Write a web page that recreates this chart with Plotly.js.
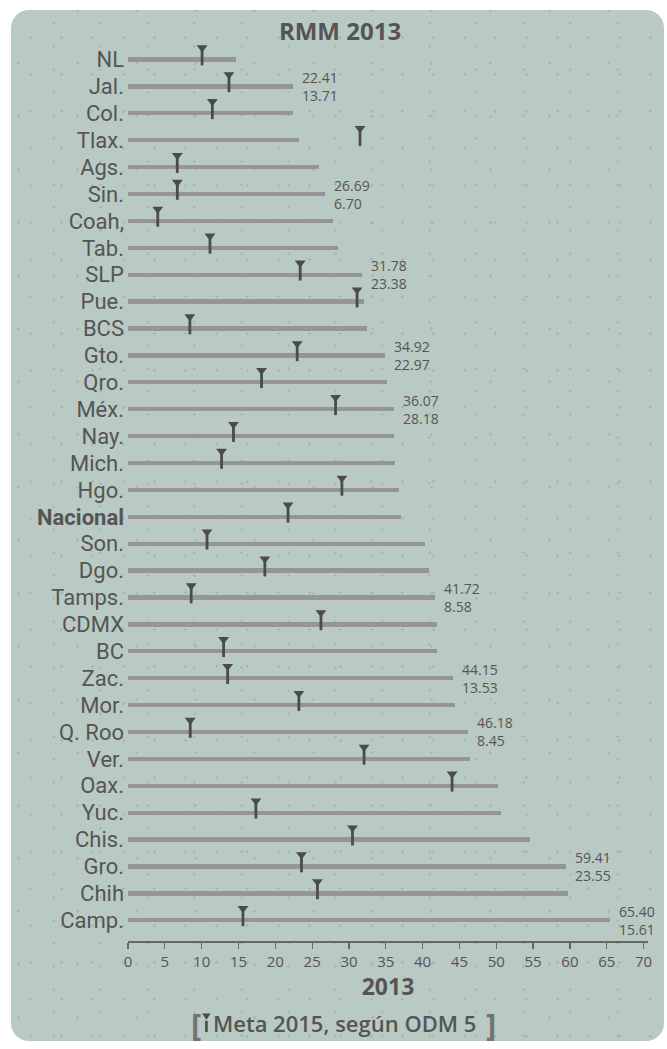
<!DOCTYPE html>
<html>
<head>
<meta charset="utf-8">
<script src="https://cdn.plot.ly/plotly-3.0.1.min.js"></script>
<style>
  html, body { margin:0; padding:0; }
  body {
    width:667px; height:1049px; position:relative; overflow:hidden;
    background-color:#ffffff;
    background-image:
      radial-gradient(circle, #d9dedc 0.9px, transparent 1.4px),
      radial-gradient(circle, #dde2e0 0.9px, transparent 1.4px);
    background-size: 37px 29px, 53px 43px;
    background-position: 3px 5px, 21px 17px;
  }
  #panel {
    position:absolute; left:11px; top:10px; width:653px; height:1031px;
    border-radius:18px;
    background-color:#b9c9c3;
    background-image:
      radial-gradient(circle, #a2b3ad 0.9px, transparent 1.5px),
      radial-gradient(circle, #a5b5af 0.9px, transparent 1.5px),
      radial-gradient(circle, #a4b4ae 0.9px, transparent 1.5px);
    background-size: 31px 37px, 47px 23px, 59px 53px;
    background-position: 4px 9px, 19px 2px, 37px 27px;
  }
  #chart { position:absolute; left:0; top:0; width:667px; height:1049px; }
</style>
</head>
<body>
<div id="panel"></div>
<div id="chart"></div>
<script>
// ---- data (top to bottom) ----
const states = ["NL","Jal.","Col.","Tlax.","Ags.","Sin.","Coah,","Tab.","SLP","Pue.","BCS",
  "Gto.","Qro.","Méx.","Nay.","Mich.","Hgo.","Nacional","Son.","Dgo.","Tamps.","CDMX","BC",
  "Zac.","Mor.","Q. Roo","Ver.","Oax.","Yuc.","Chis.","Gro.","Chih","Camp."];
const rmm2013 = [14.73,22.41,22.38,23.25,25.95,26.69,27.83,28.50,31.78,32.10,32.40,
  34.92,35.10,36.07,36.10,36.30,36.80,37.12,40.35,40.90,41.72,41.90,42.00,
  44.15,44.40,46.18,46.40,50.20,50.70,54.60,59.41,59.70,65.40];
const meta2015 = [10.06,13.71,11.45,31.50,6.69,6.70,4.04,11.13,23.38,31.10,8.40,
  22.97,18.13,28.18,14.32,12.71,29.04,21.73,10.73,18.58,8.58,26.20,12.98,
  13.53,23.20,8.45,32.05,44.00,17.37,30.48,23.55,25.72,15.61];
const labeledStates = ["Jal.","Sin.","SLP","Gto.","Méx.","Tamps.","Zac.","Q. Roo","Gro.","Camp."];
const xTicks = [0,5,10,15,20,25,30,35,40,45,50,55,60,65,70];
const chartTitle = "RMM 2013";
const xTitle = "2013";
const legendText = "Meta 2015, según ODM 5";

// ---- geometry helpers ----
const W = 667, H = 1049;
const M = {l:128, r:19, t:38, b:108};
const pw = W - M.l - M.r, ph = H - M.t - M.b;
const px = x => (x - M.l) / pw;          // pixel -> paper x
const py = y => (H - M.b - y) / ph;      // pixel -> paper y

const idx = states.map((_, i) => i);
const dark = "#4b4b4b";
const textCol = "#555555";
const labelFont = "'Liberation Sans Narrow', 'Roboto', 'Open Sans', sans-serif";

const traces = [
  {
    type: "bar", orientation: "h",
    x: rmm2013, y: idx, width: 0.16,
    marker: {color: "#959599"},
    hoverinfo: "skip", showlegend: false
  },
  {
    type: "scatter", mode: "markers",
    x: meta2015, y: idx.map(i => i - 0.07),
    marker: {symbol: "line-ns", size: 11, line: {width: 2.8, color: dark}},
    hoverinfo: "skip", showlegend: false, cliponaxis: false
  },
  {
    type: "scatter", mode: "markers",
    x: meta2015, y: idx.map(i => i - 0.44),
    marker: {symbol: "triangle-down", size: 9.5, color: dark},
    hoverinfo: "skip", showlegend: false, cliponaxis: false
  }
];

const annotations = [];
labeledStates.forEach(s => {
  const i = states.indexOf(s);
  annotations.push({
    x: rmm2013[i], y: i, xref: "x", yref: "y",
    text: rmm2013[i].toFixed(2) + "<br>" + meta2015[i].toFixed(2),
    showarrow: false, align: "left",
    xanchor: "left", yanchor: "middle", xshift: 7, yshift: 0,
    font: {family: "Open Sans", size: 14, color: textCol}
  });
});
// legend-like caption
annotations.push({
  xref: "paper", yref: "paper", x: px(195.5), y: py(1024),
  text: "<b>[</b>", showarrow: false, xanchor: "center", yanchor: "middle",
  font: {family: "Open Sans", size: 31, color: "#737373"}
});
annotations.push({
  xref: "paper", yref: "paper", x: px(491), y: py(1024),
  text: "<b>]</b>", showarrow: false, xanchor: "center", yanchor: "middle",
  font: {family: "Open Sans", size: 31, color: "#737373"}
});
annotations.push({
  xref: "paper", yref: "paper", x: px(211), y: py(1023),
  text: legendText, showarrow: false, xanchor: "left", yanchor: "middle",
  font: {family: "Open Sans", size: 22, color: textCol, weight: 600}
});

const shapes = [
  { // legend triangle
    type: "path", xref: "paper", yref: "paper",
    path: `M ${px(202.2)} ${py(1013.6)} L ${px(210.6)} ${py(1013.6)} L ${px(206.4)} ${py(1019.8)} Z`,
    fillcolor: dark, line: {width: 0}
  },
  { // legend stem
    type: "rect", xref: "paper", yref: "paper",
    x0: px(205.1), x1: px(207.7), y0: py(1032), y1: py(1020.8),
    fillcolor: dark, line: {width: 0}
  }
];

const layout = {
  width: W, height: H,
  margin: M,
  paper_bgcolor: "rgba(0,0,0,0)",
  plot_bgcolor: "rgba(0,0,0,0)",
  title: {
    text: "<b>" + chartTitle + "</b>",
    x: 340 / W, xanchor: "center", xref: "container",
    y: 1 - 32 / H, yanchor: "middle", yref: "container",
    font: {family: "Open Sans", size: 24, color: textCol}
  },
  xaxis: {
    range: [0, 70.6], tickvals: xTicks,
    ticks: "outside", ticklen: 6, tickwidth: 1.2, tickcolor: "#666",
    showline: true, linecolor: "#666", linewidth: 1.5,
    showgrid: false, zeroline: false,
    tickfont: {family: "Open Sans", size: 15, color: textCol},
    title: {text: "<b>" + xTitle + "</b>", standoff: 6,
            font: {family: "Open Sans", size: 23, color: textCol}},
    fixedrange: true
  },
  yaxis: {
    range: [32.77, -0.8],
    tickvals: idx,
    ticktext: states.map(s => s === "Nacional" ? "<b>" + s + "</b>" : s),
    ticks: "", showline: false, showgrid: false, zeroline: false,
    ticklabelstandoff: 3,
    tickfont: {family: labelFont, size: 22, color: textCol},
    fixedrange: true
  },
  annotations: annotations,
  shapes: shapes,
  showlegend: false,
  bargap: 0
};

Plotly.newPlot("chart", traces, layout, {displayModeBar: false, staticPlot: true});
</script>
</body>
</html>
